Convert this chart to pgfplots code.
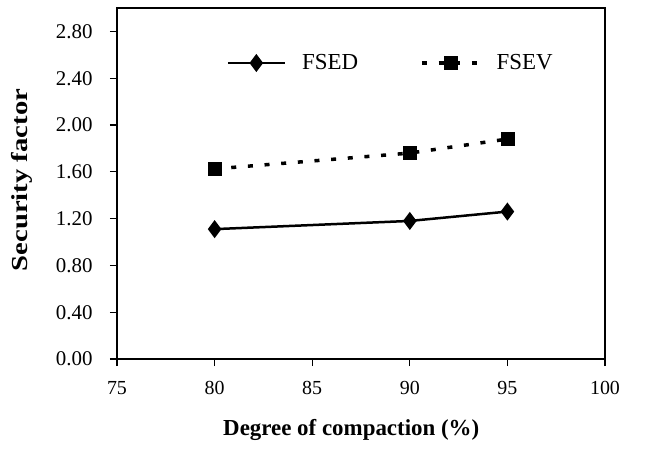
\documentclass[border=0pt]{standalone}
\usepackage{pgfplots}
\pgfplotsset{compat=1.18}
\usepackage{fontspec}
\setmainfont{Liberation Serif}
\begin{document}
\begin{tikzpicture}
\useasboundingbox (-117bp,-100bp) rectangle (545bp,359bp);
\begin{axis}[
  scale only axis,
  width=488bp, height=351bp,
  xmin=75, xmax=100, ymin=0, ymax=3.0,
  xtick={75,80,85,90,95,100},
  ytick={0,0.4,0.8,1.2,1.6,2.0,2.4,2.8},
  yticklabels={0.00,0.40,0.80,1.20,1.60,2.00,2.40,2.80},
  xticklabels={75,80,85,90,95,100},
  tick align=outside, tick pos=left,
  major tick length=7bp,
  axis line style={line width=1.2bp},
  tick style={line width=1.2bp, black},
  xticklabel style={font=\fontsize{20}{22}\selectfont, yshift=-12bp},
  yticklabel style={font=\fontsize{21}{24}\selectfont, xshift=-14bp},
  xlabel={\fontsize{23}{26}\selectfont\bfseries Degree of compaction (\%)},
  ylabel={\scalebox{1.25}[1]{\fontsize{23}{26}\selectfont\bfseries Security factor}},
  xlabel style={at={(axis description cs:0.48,-0.202)}, anchor=center},
  ylabel style={at={(axis description cs:-0.195,0.51)}, anchor=center},
  legend style={at={(axis cs:80.45,2.53)}, anchor=west, draw=none, fill=none,
    font=\fontsize{23}{26}\selectfont, legend columns=2,
    /tikz/every odd column/.append style={column sep=14bp},
    /tikz/every even column/.append style={column sep=60bp},
    legend cell align=left},
  legend image code/.code={%
    \draw[mark repeat=2,mark phase=2,#1] plot coordinates {(0bp,0bp) (28.5bp,0bp) (57bp,0bp)};},
]
\addplot[black, line width=2.5bp, mark=diamond*, mark size=7bp, mark options={solid}]
  coordinates {(80,1.11) (90,1.18) (95,1.26)};
\addlegendentry{FSED}
\addplot[black, line width=3.5bp, dash pattern=on 5bp off 11.7bp, mark=square*, mark size=6.5bp, mark options={solid, line width=0.5bp}]
  coordinates {(80,1.625) (90,1.76) (95,1.88)};
\addlegendentry{FSEV}
\end{axis}
\end{tikzpicture}
\end{document}
